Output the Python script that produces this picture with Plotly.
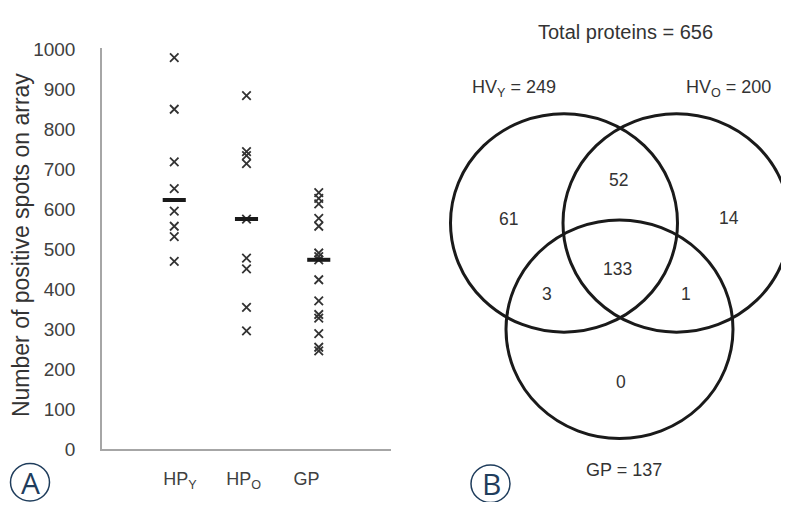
import numpy as np
import plotly.graph_objects as go

# ---------------- data ----------------
groups = ["HP<sub>Y</sub>", "HP<sub>O</sub>", "GP"]
hp_y = [980, 851, 719, 652, 596, 558, 532, 470]
hp_o = [885, 745, 735, 715, 576, 478, 451, 355, 296]
gp = [642, 628, 614, 578, 558, 491, 482, 474, 424, 371, 337, 328, 289, 255, 246]
y_ticks = [0, 100, 200, 300, 400, 500, 600, 700, 800, 900, 1000]

set_names = ["HV<sub>Y</sub>", "HV<sub>O</sub>", "GP"]
set_totals = [249, 200, 137]
total_proteins = 656
region_counts = [61, 52, 14, 133, 3, 1, 0]

# ---------------- layout constants ----------------
W, H = 789, 505
FONT = "Liberation Sans, Arial, sans-serif"
cat_pos = [1, 2, 3]
label_pos = [1.08, 1.96, 2.83]

circle_centers = [(556, 215), (668.5, 215), (611.5, 325.5)]
circle_r = 113.5
region_xy = [(500.7, 210.7), (610.7, 170.7), (721, 210), (609.3, 262.7),
             (539.3, 289), (678.3, 289), (612.7, 380.7)]
set_label_xy = [(506, 75), (720, 75), (616, 472)]

fig = go.Figure()

# scatter of individual values
for i, vals in enumerate([hp_y, hp_o, gp]):
    fig.add_trace(go.Scatter(
        x=[cat_pos[i]] * len(vals), y=vals, mode="markers",
        marker=dict(symbol="x-thin", size=8.5, color="#333333",
                    line=dict(width=1.8, color="#333333")),
        showlegend=False, hoverinfo="y"))

# median bars
medians = [float(np.median(v)) for v in [hp_y, hp_o, gp]]
fig.add_trace(go.Scatter(
    x=cat_pos, y=medians, mode="markers",
    marker=dict(symbol="line-ew", size=16.5, color="#1a1a1a",
                line=dict(width=4, color="#1a1a1a")),
    showlegend=False, hoverinfo="y"))

shapes = []
for cx, cy in circle_centers:
    shapes.append(dict(type="circle", xref="x2", yref="y2",
                       x0=cx - circle_r, x1=cx + circle_r,
                       y0=cy - circle_r, y1=cy + circle_r,
                       line=dict(color="#1a1a1a", width=3)))
# panel badges
for cx, cy in [(22, 484.5), (482.5, 486)]:
    shapes.append(dict(type="circle", xref="x2", yref="y2",
                       x0=cx - 19.5, x1=cx + 19.5, y0=cy - 19.5, y1=cy + 19.5,
                       line=dict(color="#1f3d5c", width=1.5)))

annotations = [
    dict(text="Number of positive spots on array", x=13, y=238, xref="x2", yref="y2",
         textangle=-90, showarrow=False, font=dict(family=FONT, size=23, color="#333333")),
    dict(text=f"Total proteins = {total_proteins}", x=617, y=17, xref="x2", yref="y2",
         showarrow=False, font=dict(family=FONT, size=20, color="#333333")),
    dict(text="A", x=22.5, y=485, xref="x2", yref="y2", showarrow=False,
         font=dict(family="Open Sans, sans-serif", size=30, color="#1f3d5c")),
    dict(text="B", x=483, y=486, xref="x2", yref="y2", showarrow=False,
         font=dict(family="Open Sans, sans-serif", size=30, color="#1f3d5c")),
]
for (px, py), c in zip(region_xy, region_counts):
    annotations.append(dict(text=str(c), x=px, y=py, xref="x2", yref="y2",
                            showarrow=False,
                            font=dict(family=FONT, size=17.5, color="#333333")))
for (px, py), n, t in zip(set_label_xy, set_names, set_totals):
    annotations.append(dict(text=f"{n} = {t}", x=px, y=py, xref="x2", yref="y2",
                            showarrow=False,
                            font=dict(family=FONT, size=18, color="#333333")))

fig.update_layout(
    width=W, height=H, margin=dict(l=0, r=0, t=0, b=0),
    paper_bgcolor="white", plot_bgcolor="rgba(0,0,0,0)",
    xaxis=dict(domain=[94 / W, 383 / W], range=[0, 4], tickvals=label_pos,
               ticktext=groups, showgrid=False, zeroline=False,
               showline=True, linecolor="#a6a6a6", linewidth=1.5,
               ticks="outside", ticklen=13, tickcolor="rgba(0,0,0,0)",
               tickfont=dict(family=FONT, size=18, color="#404040")),
    yaxis=dict(domain=[1 - 450 / H, 1 - 33 / H], range=[0, 1005], tickvals=y_ticks,
               showgrid=False, zeroline=False, showline=True,
               linecolor="#a6a6a6", linewidth=1.5,
               ticks="outside", ticklen=21, tickcolor="rgba(0,0,0,0)",
               tickfont=dict(family=FONT, size=19, color="#404040")),
    xaxis2=dict(domain=[0, 1], range=[0, W], visible=False, anchor="y2"),
    yaxis2=dict(domain=[0, 1], range=[H, 0], visible=False, anchor="x2"),
    shapes=shapes, annotations=annotations,
)

fig.write_html("out.html")
